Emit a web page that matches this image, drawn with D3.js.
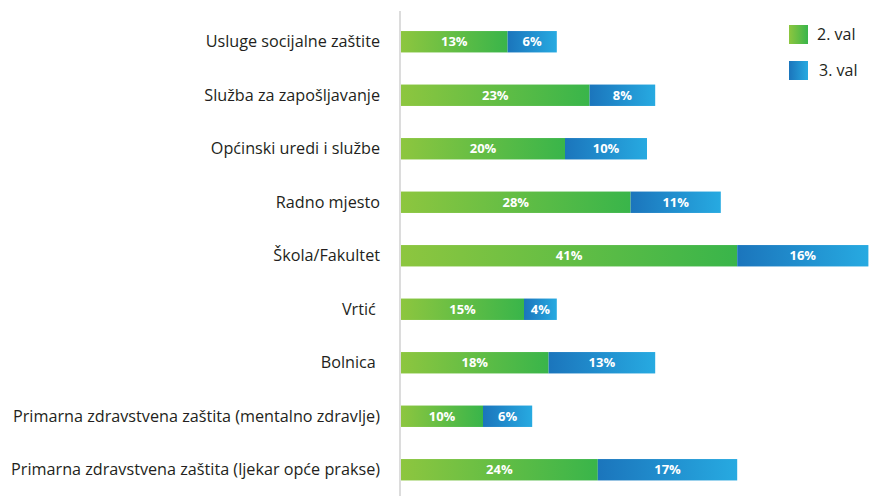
<!DOCTYPE html>
<html>
<head>
<meta charset="utf-8">
<script src="https://cdn.jsdelivr.net/npm/d3@7"></script>
<style>
  body { margin: 0; background: #fff; }
  svg { display: block; font-family: "Open Sans", sans-serif; }
  .cat { white-space: pre; }
</style>
</head>
<body>
<div id="chart"></div>
<script>
// Categories and values (%)
const categories = [
  "Usluge socijalne zaštite",
  "Služba za zapošljavanje",
  "Općinski uredi i službe",
  "Radno mjesto",
  "Škola/Fakultet",
  "Vrtić ",
  "Bolnica ",
  "Primarna zdravstvena zaštita (mentalno zdravlje)",
  "Primarna zdravstvena zaštita (ljekar opće prakse)"
];
const val2 = [13, 23, 20, 28, 41, 15, 18, 10, 24];
const val3 = [6, 8, 10, 11, 16, 4, 13, 6, 17];
const seriesNames = ["2. val", "3. val"];

const width = 870, height = 496;
const x0 = 401;

const svg = d3.select("#chart")
  .append("svg")
  .attr("width", width)
  .attr("height", height);

// gradients
const defs = svg.append("defs");
const grads = [
  { id: "gGreen", from: "#8dc63f", to: "#39b54a" },
  { id: "gBlue", from: "#1b75bc", to: "#27aae1" }
];
grads.forEach(g => {
  const lg = defs.append("linearGradient").attr("id", g.id)
    .attr("x1", "0%").attr("x2", "100%").attr("y1", "0%").attr("y2", "0%");
  lg.append("stop").attr("offset", "0%").attr("stop-color", g.from);
  lg.append("stop").attr("offset", "100%").attr("stop-color", g.to);
});

const x = d3.scaleLinear().domain([0, 57]).range([x0, x0 + 57 * 8.2]);
const y = d3.scaleBand().domain(categories).range([15, 496.5])
  .paddingInner(0.6).paddingOuter(0.3);

// axis line
svg.append("line")
  .attr("x1", 400).attr("x2", 400)
  .attr("y1", 11).attr("y2", height)
  .attr("stroke", "#dcdcdc").attr("stroke-width", 2);

// category labels
svg.selectAll(".cat")
  .data(categories)
  .enter()
  .append("text")
  .attr("class", "cat")
  .attr("x", 380)
  .attr("y", d => y(d) + y.bandwidth() / 2)
  .attr("dy", "0.35em")
  .attr("text-anchor", "end")
  .attr("font-size", 16.2)
  .attr("fill", "#231f20")
  .text(d => d);

const rows = categories.map((c, i) => ({ c, a: val2[i], b: val3[i] }));

const g = svg.append("g");

// 2. val segment
g.selectAll(".s2")
  .data(rows)
  .enter()
  .append("rect")
  .attr("x", x(0))
  .attr("y", d => y(d.c))
  .attr("width", d => x(d.a) - x(0))
  .attr("height", y.bandwidth())
  .attr("fill", "url(#gGreen)");

// 3. val segment
g.selectAll(".s3")
  .data(rows)
  .enter()
  .append("rect")
  .attr("x", d => x(d.a))
  .attr("y", d => y(d.c))
  .attr("width", d => x(d.a + d.b) - x(d.a))
  .attr("height", y.bandwidth())
  .attr("fill", "url(#gBlue)");

// value labels
g.selectAll(".l2")
  .data(rows)
  .enter()
  .append("text")
  .attr("x", d => (x(0) + x(d.a)) / 2)
  .attr("y", d => y(d.c) + y.bandwidth() / 2)
  .attr("dy", "0.36em")
  .attr("text-anchor", "middle")
  .attr("font-size", 13)
  .attr("font-weight", "bold")
  .attr("fill", "#fff")
  .text(d => d.a + "%");

g.selectAll(".l3")
  .data(rows)
  .enter()
  .append("text")
  .attr("x", d => (x(d.a) + x(d.a + d.b)) / 2)
  .attr("y", d => y(d.c) + y.bandwidth() / 2)
  .attr("dy", "0.36em")
  .attr("text-anchor", "middle")
  .attr("font-size", 13)
  .attr("font-weight", "bold")
  .attr("fill", "#fff")
  .text(d => d.b + "%");

// legend
const legend = svg.append("g");
seriesNames.forEach((name, i) => {
  const ly = 25 + i * 36;
  legend.append("rect")
    .attr("x", 789).attr("y", ly)
    .attr("width", 19).attr("height", 19)
    .attr("fill", i === 0 ? "url(#gGreen)" : "url(#gBlue)");
  legend.append("text")
    .attr("x", 817 + i * 2).attr("y", ly + 9.5)
    .attr("dy", "0.35em")
    .attr("font-size", 16)
    .attr("fill", "#231f20")
    .text(name);
});
</script>
</body>
</html>
